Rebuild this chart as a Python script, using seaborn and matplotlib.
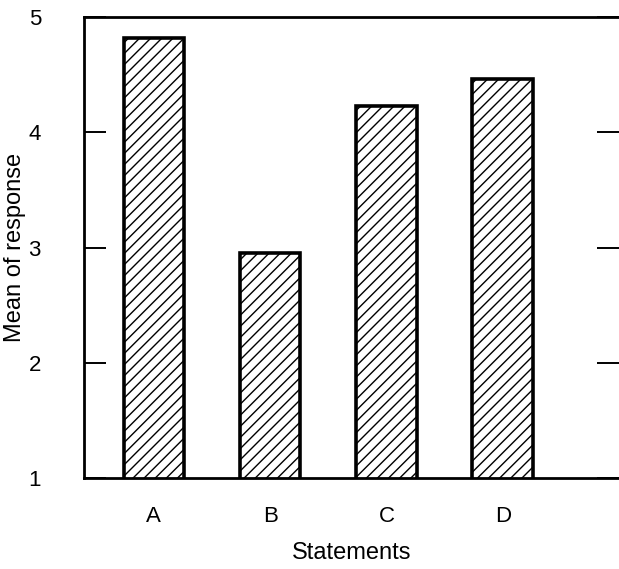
import matplotlib
matplotlib.use("Agg")
import matplotlib.pyplot as plt
import seaborn as sns
import pandas as pd

statements = ["A", "B", "C", "D"]
means = [4.82, 2.95, 4.23, 4.46]
y_ticks = [1, 2, 3, 4, 5]

sns.set_theme(style="white")
plt.rcParams['font.family'] = ['Liberation Sans', 'DejaVu Sans']
plt.rcParams['hatch.linewidth'] = 1.0

df = pd.DataFrame({"Statements": statements, "Mean": means})

fig = plt.figure(figsize=(6.19, 5.69), dpi=100)
W, H = 619, 569
left, right, top, bottom = 84, 619, 17, 478
ax = fig.add_axes([left / W, 1 - bottom / H, (right - left) / W, (bottom - top) / H])

sns.barplot(data=df, x="Statements", y="Mean", ax=ax, color="white",
            edgecolor="black", linewidth=2.6, width=0.52, bottom=0)
for p in ax.patches:
    p.set_hatch("///")

ax.set_ylim(1, 5)
ax.set_xlim(-0.6, 4.0)
ax.set_yticks(y_ticks)
ax.set_yticklabels([str(t) for t in y_ticks])

for s in ["left", "bottom", "top"]:
    ax.spines[s].set_visible(True)
    ax.spines[s].set_color("black")
    ax.spines[s].set_linewidth(2.0)
ax.spines["right"].set_visible(False)

ax.tick_params(axis="y", direction="in", length=16, width=1.4, colors="black",
               labelsize=16, pad=31, left=True, right=True)
ax.tick_params(axis="x", length=0, labelsize=16, pad=20, colors="black")

ax.set_xlabel("Statements", fontsize=17, labelpad=11, color="black")
ax.set_ylabel("Mean of response", fontsize=17, labelpad=2, color="black")

fig.savefig("out.png", dpi=100, facecolor="white")
